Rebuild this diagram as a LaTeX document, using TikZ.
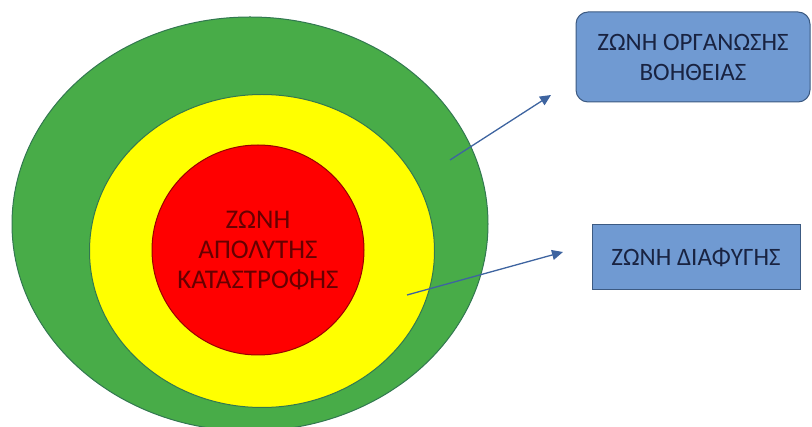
\documentclass[tikz,border=0pt]{standalone}
\usepackage{fontspec}
\setmainfont{Carlito}
\usetikzlibrary{shapes.geometric, arrows.meta, positioning}

\definecolor{zgreen}{RGB}{72,172,72}
\definecolor{zgreenline}{RGB}{50,120,80}
\definecolor{zyellow}{RGB}{255,255,0}
\definecolor{zred}{RGB}{255,0,0}
\definecolor{zboxfill}{RGB}{112,154,210}
\definecolor{zboxline}{RGB}{60,90,130}
\definecolor{ztext}{RGB}{25,35,65}
\definecolor{zarrow}{RGB}{62,100,160}

\begin{document}
\begin{tikzpicture}[x=1pt, y=-1pt, font=\fontsize{25}{30}\selectfont,
	zone/.style = {draw=zgreenline, line width=1pt, ellipse, inner sep=0pt},
	label/.style = {draw=zboxline, fill=zboxfill, line width=1pt, text=ztext, align=center},
	link/.style = {zarrow, line width=1.3pt, -{Triangle[length=11pt, width=10pt]}}]
	\useasboundingbox (0,0) rectangle (812,427);
	\node[zone, fill=zgreen, minimum width=476pt, minimum height=414pt] (green) at (250,224) {};
	\node[zone, fill=zyellow, minimum width=345pt, minimum height=313pt] (yellow) at (262,251) {};
	\node[zone, fill=zred, draw=zred!60!black, minimum width=212pt, minimum height=210pt, inner xsep=-12pt,
		text=zred!40!black, align=center, font=\fontsize{27}{30}\selectfont] (red) at (258,250)
		{ΖΩΝΗ\\ΑΠΟΛΥΤΗΣ\\ΚΑΤΑΣΤΡΟΦΗΣ};
	\node[label, rounded corners=12pt, minimum width=234pt, minimum height=90pt] (aid) at (693,57)
		{ΖΩΝΗ ΟΡΓΑΝΩΣΗΣ\\ΒΟΗΘΕΙΑΣ};
	\node[label, minimum width=208pt, minimum height=65pt] (escape) at (696,257) {ΖΩΝΗ ΔΙΑΦΥΓΗΣ};
	\coordinate (a1) at (450,160);
	\coordinate (a2) at (551,95);
	\coordinate (b1) at (407,295);
	\coordinate (b2) at (563,252);
	\draw[link] (a1) -- (a2);
	\draw[link] (b1) -- (b2);
\end{tikzpicture}
\end{document}
